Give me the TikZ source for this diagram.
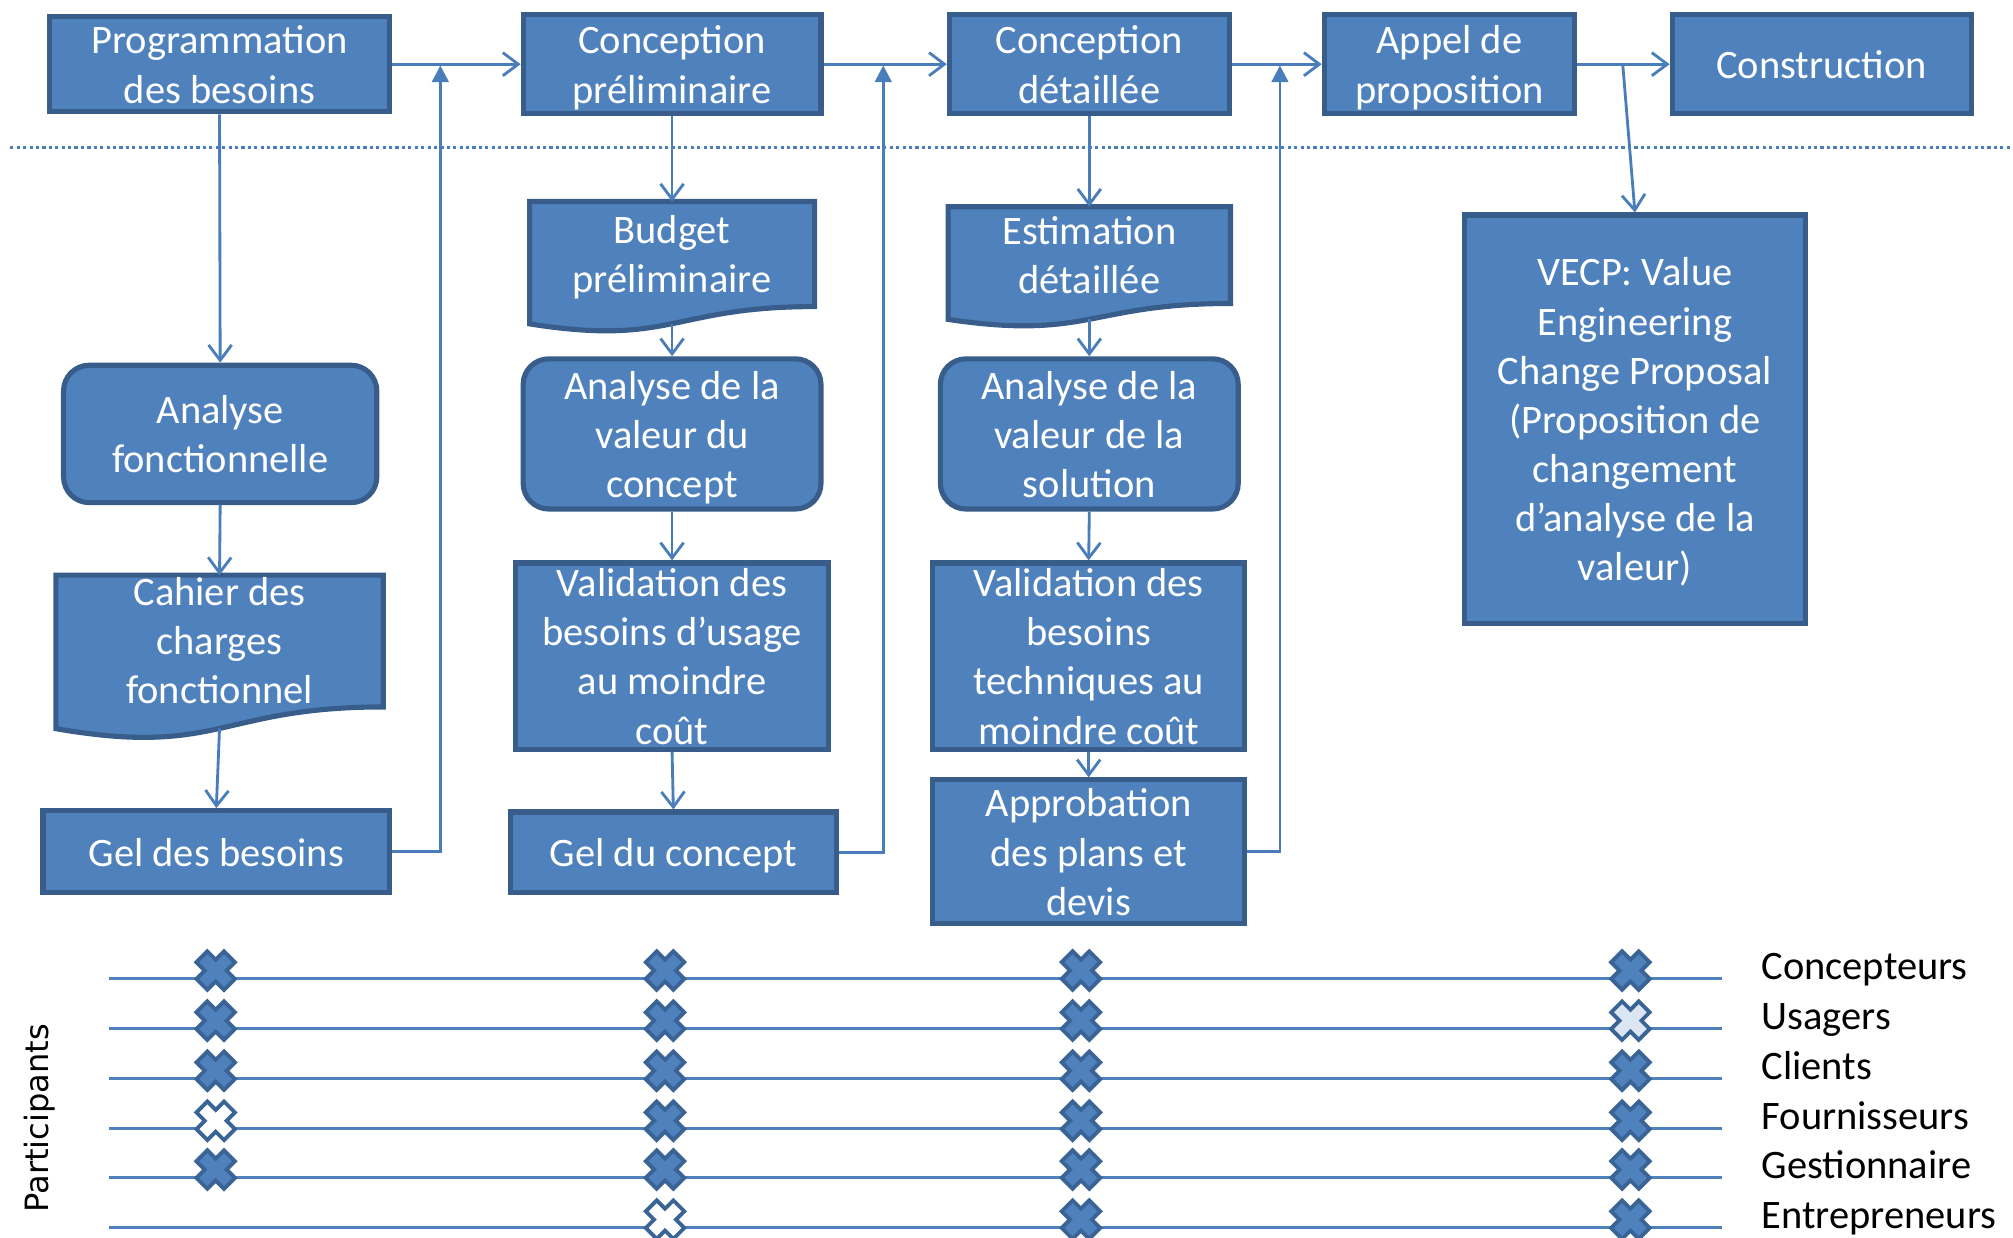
\documentclass[tikz,border=0pt]{standalone}
\usepackage{fontspec}
\setmainfont{Carlito}
\newfontfamily\djv{DejaVu Sans}
\usetikzlibrary{arrows.meta}
\definecolor{bfill}{HTML}{4F81BD}
\definecolor{bdraw}{HTML}{385D8A}
\definecolor{cline}{HTML}{4A7EBB}
\definecolor{xdark}{HTML}{3A6495}
\definecolor{xlight}{HTML}{DCE6F2}

\newcommand\tstrA{\rule{0pt}{33.8pt}}
\newcommand\tstrB{\rule[-11.5pt]{0pt}{11.5pt}}
\newcommand\tx[1]{\tstrA#1\tstrB}
\newcommand\docbox[6]{%
  \filldraw[docsty] ({#2-#4/2},#3) -- ({#2+#4/2},#3) -- ({#2+#4/2},{#3+0.802*#5})
    .. controls (#2,{#3+0.802*#5}) and (#2,{#3+1.107*#5}) .. ({#2-#4/2},{#3+0.934*#5}) -- cycle;
  \node[inner sep=0pt, minimum width=#4pt, minimum height={0.8*#5pt}, anchor=north] (#1) at (#2,#3) {};
  \node[txt] (#1-t) at (#2,{#3+0.4*#5-0.5}) {\tx{#6}};
  \coordinate (#1-b) at (#2,{#3+0.933*#5});
}
\newcommand\xm[3]{%
  \filldraw[xmk, fill=#3, shift={(#1,#2-6)}] (0,-8.5) -- (6.5,-15) -- (15,-6.5) -- (8.5,0) -- (15,6.5) -- (6.5,15) -- (0,8.5) -- (-6.5,15) -- (-15,6.5) -- (-8.5,0) -- (-15,-6.5) -- (-6.5,-15) -- cycle;
}

\begin{document}
\begin{tikzpicture}[x=1pt,y=-1pt,
  txt/.style={text=white, font=\fontsize{31.5}{38.3}\selectfont, align=center, inner sep=0pt},
  box/.style={draw=bdraw, fill=bfill, line width=4pt, inner sep=0pt},
  rbox/.style={box, rounded corners=20pt},
  docsty/.style={draw=bdraw, fill=bfill, line width=4pt},
  conn/.style={draw=cline, line width=2.2pt, -{Straight Barb[length=12pt,width=18pt]}},
  fb/.style={draw=cline, line width=2.2pt, -{Triangle[length=13pt,width=13pt]}},
  plab/.style={font=\fontsize{31.5}{38}\selectfont, anchor=base west, inner sep=0pt},
  pline/.style={draw=bfill, line width=2.5pt},
  xmk/.style={draw=xdark, line width=3pt, line join=miter},
]
\useasboundingbox (0,0) rectangle (1568,964);

% top row
\node[box, minimum width=265pt, minimum height=74pt, label={[txt, name=prog-t]center:{\tx{Programmation\\des besoins}}}] (prog) at (171,50) {};
\node[box, minimum width=232pt, minimum height=77pt, label={[txt, name=cpre-t]center:{\tx{Conception\\préliminaire}}}] (cpre) at (523.5,50) {};
\node[box, minimum width=218pt, minimum height=77pt, label={[txt, name=cdet-t]center:{\tx{Conception\\détaillée}}}] (cdet) at (848.5,50) {};
\node[box, minimum width=195pt, minimum height=77pt, label={[txt, name=appel-t]center:{\tx{Appel de\\proposition}}}] (appel) at (1129,50) {};
\node[box, minimum width=233pt, minimum height=77pt, label={[txt, name=constr-t]center:{\tx{Construction}}}] (constr) at (1419,50) {};

% separator
\draw[cline, line width=2.5pt, dash pattern=on 2.5pt off 2.5pt] (8,115) -- (1568,115);

% column 1
\node[rbox, minimum width=244pt, minimum height=107pt, label={[txt, name=af-t]center:{\tx{Analyse\\fonctionnelle}}}] (af) at (171.5,338) {};
\docbox{cdc}{171}{448}{255}{128}{Cahier des\\charges\\fonctionnel}
\node[box, minimum width=270pt, minimum height=64pt, label={[txt, name=gel1-t]center:{\tx{Gel des besoins}}}] (gel1) at (168.5,663.5) {};

% column 2
\docbox{bud}{523.5}{157}{222}{102}{Budget\\préliminaire}
\node[rbox, minimum width=232pt, minimum height=117pt, label={[txt, name=avc-t]center:{\tx{Analyse de la\\valeur du\\concept}}}] (avc) at (523.5,338) {};
\node[box, minimum width=244pt, minimum height=145pt, label={[txt, name=valu-t]center:{\tx{Validation des\\besoins d’usage\\au moindre\\coût}}}] (valu) at (523.5,511) {};
\node[box, minimum width=254pt, minimum height=63pt, label={[txt, name=gel2-t]center:{\tx{Gel du concept}}}] (gel2) at (524.5,664) {};

% column 3
\docbox{est}{848.5}{161}{220}{94}{Estimation\\détaillée}
\node[rbox, minimum width=232pt, minimum height=117pt, label={[txt, name=avs-t]center:{\tx{Analyse de la\\valeur de la\\solution}}}] (avs) at (848.5,338) {};
\node[box, minimum width=243pt, minimum height=145pt, label={[txt, name=valt-t]center:{\tx{Validation des\\besoins\\techniques au\\moindre coût}}}] (valt) at (848,511) {};
\node[box, minimum width=243pt, minimum height=112pt, label={[txt, name=appr-t]center:{\tx{Approbation\\des plans et\\devis}}}] (appr) at (848,663.5) {};

% column 4
\node[box, minimum width=266pt, minimum height=318pt, label={[txt, name=vecp-t]center:{\tx{VECP: Value\\Engineering\\Change Proposal\\(Proposition de\\changement\\d’analyse de la\\valeur)}}}] (vecp) at (1273.5,326.5) {};

% connectors
\draw[conn] (prog.east) -- (cpre.west);
\draw[conn] (cpre.east) -- (cdet.west);
\draw[conn] (cdet.east) -- (appel.west);
\draw[conn] (appel.east) -- (constr.west);
\coordinate (j4) at (1264,50);
\draw[conn] (j4) -- (vecp.north);

\draw[conn] (prog.south) -- (af.north);
\draw[conn] (af.south) -- (cdc.north);
\draw[conn] (cdc-b) -- (gel1.north);

\draw[conn] (cpre.south) -- (bud.north);
\draw[conn] (bud-b) -- (avc.north);
\draw[conn] (avc.south) -- (valu.north);
\draw[conn] (valu.south) -- (gel2.north);

\draw[conn] (cdet.south) -- (est.north);
\draw[conn] (est-b) -- (avs.north);
\draw[conn] (avs.south) -- (valt.north);
\draw[conn] (valt.south) -- (appr.north);

\coordinate (fb1) at (343,51);
\coordinate (fb2) at (688,51);
\coordinate (fb3) at (997,51);
\draw[fb] (gel1.east) -| (fb1);
\draw[fb] (gel2.east) -| (fb2);
\draw[fb] (appr.east) -| (fb3);

% participants
\foreach \yy in {762,801,840,879,917,956} {\draw[pline] (85,\yy) -- (1341,\yy);}

\xm{168}{762}{bfill}\xm{168}{801}{bfill}\xm{168}{840}{bfill}\xm{168}{879}{white}\xm{168}{917}{bfill}
\xm{518}{762}{bfill}\xm{518}{801}{bfill}\xm{518}{840}{bfill}\xm{518}{879}{bfill}\xm{518}{917}{bfill}\xm{518}{956}{white}
\xm{842}{762}{bfill}\xm{842}{801}{bfill}\xm{842}{840}{bfill}\xm{842}{879}{bfill}\xm{842}{917}{bfill}\xm{842}{956}{bfill}
\xm{1270}{762}{bfill}\xm{1270}{801}{xlight}\xm{1270}{840}{bfill}\xm{1270}{879}{bfill}\xm{1270}{917}{bfill}\xm{1270}{956}{bfill}

\node[plab] (lconc) at (1372,763) {Concepteurs};
\node[plab] (lusa) at (1372,802) {Usagers};
\node[plab] (lcli) at (1372,841) {Clients};
\node[plab] (lfou) at (1372,880) {Fournisseurs};
\node[plab] (lges) at (1372,918) {Gestionnaire};
\node[plab] (lent) at (1372,957) {Entrepreneurs};

\node[font=\djv\fontsize{25}{30}\selectfont, rotate=90, inner sep=0pt] (part) at (31,871) {Participants};
\end{tikzpicture}
\end{document}
